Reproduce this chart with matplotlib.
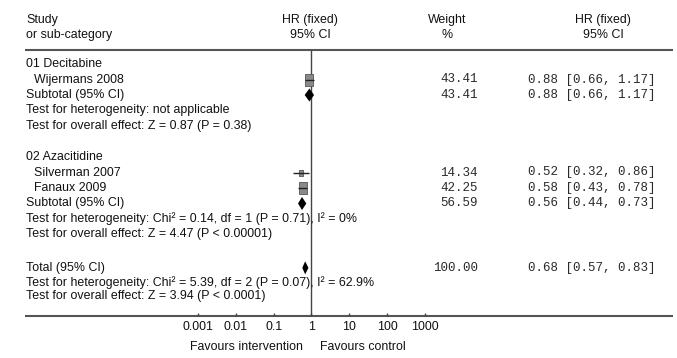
import numpy as np
import matplotlib
matplotlib.use("Agg")
import matplotlib.pyplot as plt
from matplotlib.path import Path

# ---- data -------------------------------------------------------------
studies = ["Wijermans 2008", "Silverman 2007", "Fanaux 2009"]
study_group = [0, 1, 1]
study_hr = [0.88, 0.52, 0.58]
study_lo = [0.66, 0.32, 0.43]
study_hi = [1.17, 0.86, 0.78]
study_weight = [43.41, 14.34, 42.25]

groups = ["01 Decitabine", "02 Azacitidine"]
sub_hr = [0.88, 0.56]
sub_lo = [0.66, 0.44]
sub_hi = [1.17, 0.73]
sub_weight = [43.41, 56.59]
sub_het = ["Test for heterogeneity: not applicable",
           "Test for heterogeneity: Chi\u00b2 = 0.14, df = 1 (P = 0.71), I\u00b2 = 0%"]
sub_effect = ["Test for overall effect: Z = 0.87 (P = 0.38)",
              "Test for overall effect: Z = 4.47 (P < 0.00001)"]

total_hr = 0.68
total_lo = 0.57
total_hi = 0.83
total_weight = 100.00
total_het = "Test for heterogeneity: Chi\u00b2 = 5.39, df = 2 (P = 0.07), I\u00b2 = 62.9%"
total_effect = "Test for overall effect: Z = 3.94 (P < 0.0001)"

axis_ticks = [0.001, 0.01, 0.1, 1, 10, 100, 1000]
axis_labels = ["0.001", "0.01", "0.1", "1", "10", "100", "1000"]

# ---- layout -----------------------------------------------------------
W, H = 677, 358
fig = plt.figure(figsize=(W / 100, H / 100), dpi=100)
ax = fig.add_axes([0, 0, 1, 1])
ax.axis("off")
ax.set_xscale("log")

x_one, decade = 311.5, 37.8           # pixel of HR = 1, pixels per decade
row0, row_h = 64.0, 15.5               # pixel of first row, row height
ax.set_xlim(10 ** ((0 - x_one) / decade), 10 ** ((W - x_one) / decade))
ax.set_ylim((H - row0) / row_h, (0 - row0) / row_h)

tr = ax.get_yaxis_transform()          # x in axes fraction, y in rows
def px(p):
    return p / W

sans = "Liberation Sans"
mono = "Liberation Mono"
fs = 8.9
fm = 9.0
ink = "#111111"
mono_ink = "#2a2a2a"

def ltext(xpix, row, s):
    ax.text(px(xpix), row, s, transform=tr, ha="left", va="center",
            family=sans, fontsize=fs, color=ink)

def ctext(xpix, row, s, family=sans, size=fs):
    ax.text(px(xpix), row, s, transform=tr, ha="center", va="center",
            family=family, fontsize=size, color=ink)

def rtext(xpix, row, s, family=sans, size=fs, color=ink):
    ax.text(px(xpix), row, s, transform=tr, ha="right", va="center",
            family=family, fontsize=size, color=color)

# headers
h1, h2 = -2.85, -1.9
ltext(26, h1, "Study")
ltext(26, h2, "or sub-category")
ctext(310, h1, "HR (fixed)")
ctext(310, h2, "95% CI")
ctext(447, h1, "Weight")
ctext(447, h2, "%")
ctext(603, h1, "HR (fixed)")
ctext(603, h2, "95% CI")

top_row = (50 - row0) / row_h
bot_row = (316 - row0) / row_h
ax.plot([px(25), px(673)], [top_row, top_row], transform=tr,
        color="#555555", lw=1.5, solid_capstyle="butt")
ax.plot([px(25), px(673)], [bot_row, bot_row], transform=tr,
        color="#555555", lw=1.5, solid_capstyle="butt")
ax.vlines(1, top_row, bot_row, color="#444444", lw=1.0)

# axis ticks and labels
ax.vlines(axis_ticks, bot_row - 0.22, bot_row, color="#444444", lw=1.0)
tick_row = (327 - row0) / row_h
for t, lab in zip(axis_ticks, axis_labels):
    ax.text(t, tick_row, lab, ha="center", va="center",
            family=sans, fontsize=fs, color=ink)
fav_row = (347 - row0) / row_h
rtext(303, fav_row, "Favours intervention")
ltext(320, fav_row, "Favours control")

box_path = Path([(-0.72, -1), (0.72, -1), (0.72, 1), (-0.72, 1), (-0.72, -1)],
                [Path.MOVETO, Path.LINETO, Path.LINETO, Path.LINETO, Path.CLOSEPOLY])

def ci_text(hr, lo, hi):
    return f"{hr:.2f} [{lo:.2f}, {hi:.2f}]"

def diamond(row, hr, lo, hi, half=0.42):
    ax.fill([lo, hr, hi, hr], [row, row - half, row, row + half],
            color="black", lw=0, zorder=4)

def numbers(row, w, hr, lo, hi):
    rtext(478, row, f"{w:.2f}", family=mono, size=fm, color=mono_ink)
    rtext(656, row, ci_text(hr, lo, hi), family=mono, size=fm, color=mono_ink)

# groups: (header row, study rows, subtotal row, heterogeneity row, effect row)
group_rows = [(0, [1], 2, 3, 4), (6, [7, 8], 9, 10, 11)]
for g, (hrow, srows, subrow, hetrow, effrow) in enumerate(group_rows):
    ltext(26, hrow, groups[g])
    idx = [i for i, sg in enumerate(study_group) if sg == g]
    for i, r in zip(idx, srows):
        ltext(34, r, studies[i])
        ax.hlines(r, study_lo[i], study_hi[i], color="#222222", lw=1.0, zorder=5)
        size = 8.6 * np.sqrt(study_weight[i] / max(study_weight))
        ax.plot(study_hr[i], r, marker=box_path, markersize=size,
                color="#8a8a8a", markeredgecolor="#555555", markeredgewidth=0.6,
                zorder=4)
        numbers(r, study_weight[i], study_hr[i], study_lo[i], study_hi[i])
    ltext(26, subrow, "Subtotal (95% CI)")
    diamond(subrow, sub_hr[g], sub_lo[g], sub_hi[g])
    numbers(subrow, sub_weight[g], sub_hr[g], sub_lo[g], sub_hi[g])
    ltext(26, hetrow, sub_het[g])
    ltext(26, effrow, sub_effect[g])

# overall
t0 = 13.15
ltext(26, t0, "Total (95% CI)")
diamond(t0, total_hr, total_lo, total_hi)
numbers(t0, total_weight, total_hr, total_lo, total_hi)
ltext(26, 14.1, total_het)
ltext(26, 15.0, total_effect)

fig.savefig("out.png", dpi=100, facecolor="white")
